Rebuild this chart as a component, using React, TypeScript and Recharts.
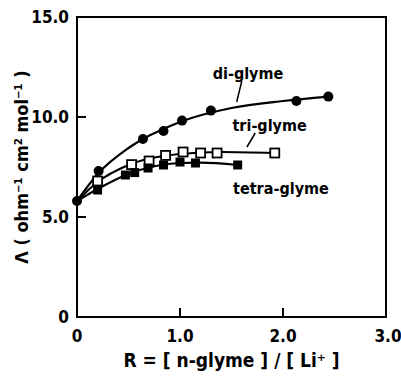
import React from 'react';
import { ComposedChart, Line, Scatter, XAxis, YAxis, ReferenceArea, ReferenceLine, ReferenceDot } from 'recharts';

const diPoints = [
  { x: 0, y: 5.8 }, { x: 0.21, y: 7.3 }, { x: 0.64, y: 8.9 }, { x: 0.84, y: 9.3 },
  { x: 1.02, y: 9.82 }, { x: 1.3, y: 10.32 }, { x: 2.13, y: 10.8 }, { x: 2.44, y: 11.02 },
];
const triPoints = [
  { x: 0.2, y: 6.8 }, { x: 0.53, y: 7.62 }, { x: 0.7, y: 7.8 }, { x: 0.86, y: 8.08 },
  { x: 1.03, y: 8.25 }, { x: 1.2, y: 8.2 }, { x: 1.36, y: 8.2 }, { x: 1.92, y: 8.2 },
];
const tetraPoints = [
  { x: 0.2, y: 6.35 }, { x: 0.47, y: 7.1 }, { x: 0.56, y: 7.22 }, { x: 0.69, y: 7.45 },
  { x: 0.84, y: 7.6 }, { x: 1.0, y: 7.75 }, { x: 1.15, y: 7.7 }, { x: 1.56, y: 7.6 },
];
const diCurve = [
  { x: 0, y: 5.8 }, { x: 0.2, y: 7.15 }, { x: 0.5, y: 8.45 }, { x: 1.0, y: 9.75 },
  { x: 1.5, y: 10.45 }, { x: 2.0, y: 10.8 }, { x: 2.44, y: 11.02 },
];
const triCurve = [
  { x: 0, y: 5.8 }, { x: 0.2, y: 6.75 }, { x: 0.5, y: 7.6 }, { x: 1.0, y: 8.15 },
  { x: 1.4, y: 8.25 }, { x: 1.92, y: 8.2 },
];
const tetraCurve = [
  { x: 0, y: 5.8 }, { x: 0.2, y: 6.4 }, { x: 0.5, y: 7.15 }, { x: 1.0, y: 7.7 },
  { x: 1.2, y: 7.72 }, { x: 1.56, y: 7.6 },
];
const xTicks = [0, 1, 2, 3];
const yTicks = [0, 5, 10, 15];
const seriesLabels = [
  { text: 'di-glyme', x: 1.66, y: 12.2 },
  { text: 'tri-glyme', x: 1.87, y: 9.6 },
  { text: 'tetra-glyme', x: 1.98, y: 6.45 },
];
const leaders = [
  [{ x: 1.6, y: 11.8 }, { x: 1.55, y: 10.75 }],
  [{ x: 1.73, y: 9.2 }, { x: 1.65, y: 8.5 }],
];

const FONT = '"DejaVu Sans Condensed", "Liberation Sans Narrow", "DejaVu Sans", sans-serif';
const fmt = (v: number) => (v === 0 ? '0' : v.toFixed(1));

const YTick = (props: any) => {
  const { x, y, payload } = props;
  return (
    <g>
      <text x={x} y={y} dy={6} textAnchor="end" fontFamily={FONT} fontWeight="bold" fontSize={17} fill="#000">{fmt(payload.value)}</text>
      {payload.value !== 0 && payload.value !== 15 && (
        <line x1={x + 8} x2={x + 17} y1={y} y2={y} stroke="#000" strokeWidth={2} />
      )}
    </g>
  );
};
const XTick = (props: any) => {
  const { x, y, payload } = props;
  return (
    <g>
      <text x={x + (payload.value === 3 ? 2 : 0)} y={y} dy={19} textAnchor="middle" fontFamily={FONT} fontWeight="bold" fontSize={17} fill="#000">{fmt(payload.value)}</text>
      {payload.value !== 0 && payload.value !== 3 && (
        <line x1={x} x2={x} y1={y - 6} y2={y - 15} stroke="#000" strokeWidth={2} />
      )}
    </g>
  );
};

const circle = (p: any) => <circle cx={p.cx} cy={p.cy} r={5} fill="#000" />;
const openSq = (p: any) => <rect x={p.cx - 4.5} y={p.cy - 4.5} width={9} height={9} fill="#fff" stroke="#000" strokeWidth={1.8} />;
const fillSq = (p: any) => <rect x={p.cx - 4.5} y={p.cy - 4.5} width={9} height={9} fill="#000" />;

export default function App() {
  return (
    <div style={{ position: 'absolute', left: 0, top: 0, background: '#fff' }}>
      <ComposedChart width={401} height={381} margin={{ top: 17, right: 15, bottom: 0, left: 0 }}>
        <XAxis type="number" dataKey="x" domain={[0, 3]} ticks={xTicks} tickSize={0} tickMargin={6}
          tick={<XTick />} axisLine={{ stroke: '#000', strokeWidth: 2 }} tickLine={false} height={64}
          label={{ value: 'R = [ n-glyme ] / [ Li⁺ ]', position: 'insideBottom', offset: 14, fontFamily: FONT, fontWeight: 'bold', fontSize: 19, fill: '#000' }} />
        <YAxis type="number" dataKey="y" domain={[0, 15]} ticks={yTicks} tickSize={0} tickMargin={8}
          tick={<YTick />} axisLine={{ stroke: '#000', strokeWidth: 2 }} tickLine={false} width={77}
          label={{ value: 'Λ ( ohm⁻¹ cm² mol⁻¹ )', angle: -90, position: 'insideLeft', offset: 22, dy: 0, fontFamily: FONT, fontWeight: 'bold', fontSize: 18, fill: '#000', style: { textAnchor: 'middle' } }} />
        <ReferenceArea x1={0} x2={3} y1={0} y2={15} fill="none" stroke="#000" strokeWidth={2} ifOverflow="visible" />
        <Line data={diCurve} dataKey="y" type="monotone" stroke="#000" strokeWidth={2.2} dot={false} isAnimationActive={false} />
        <Line data={triCurve} dataKey="y" type="monotone" stroke="#000" strokeWidth={2.2} dot={false} isAnimationActive={false} />
        <Line data={tetraCurve} dataKey="y" type="monotone" stroke="#000" strokeWidth={2.2} dot={false} isAnimationActive={false} />
        <Scatter data={diPoints} dataKey="y" shape={circle} isAnimationActive={false} />
        <Scatter data={triPoints} dataKey="y" shape={openSq} isAnimationActive={false} />
        <Scatter data={tetraPoints} dataKey="y" shape={fillSq} isAnimationActive={false} />
        {leaders.map((seg, i) => (
          <ReferenceLine key={i} segment={seg} stroke="#000" strokeWidth={1.5} />
        ))}
        {seriesLabels.map((l) => (
          <ReferenceDot key={l.text} x={l.x} y={l.y} r={0} fill="none" stroke="none"
            label={{ value: l.text, position: 'center', fontFamily: FONT, fontWeight: 'bold', fontSize: 16, fill: '#000' }} />
        ))}
      </ComposedChart>
    </div>
  );
}
